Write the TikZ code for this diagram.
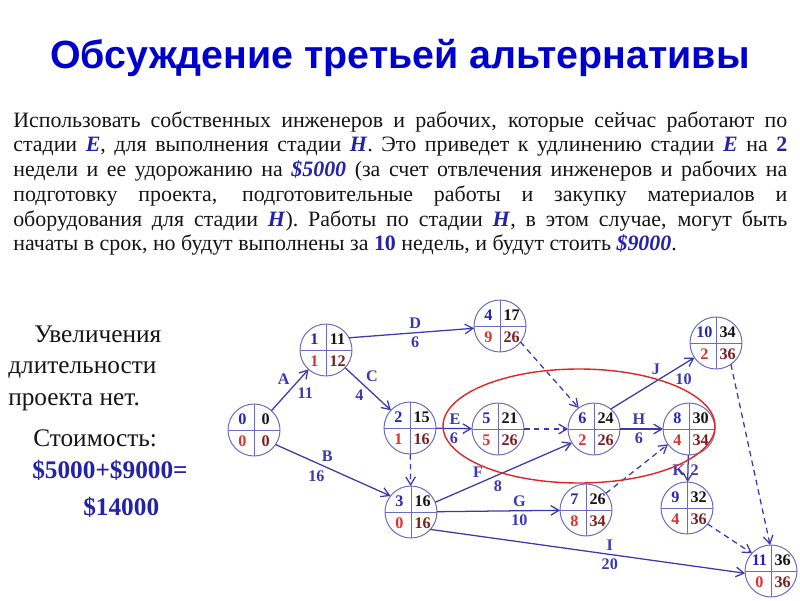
\documentclass[tikz,border=0pt]{standalone}
\usepackage{fontspec}
\setmainfont{Liberation Serif}
\setsansfont{Liberation Sans}
\usetikzlibrary{arrows.meta, positioning}
\definecolor{ttlblue}{HTML}{0000CC}
\definecolor{txtblue}{HTML}{2222AA}
\definecolor{edgeblue}{HTML}{3A3AB0}
\definecolor{circblue}{HTML}{6B6BC0}
\definecolor{numblue}{HTML}{2525B0}
\definecolor{numblack}{HTML}{151515}
\definecolor{numred}{HTML}{E03030}
\definecolor{numdark}{HTML}{7B2020}
\definecolor{ringred}{HTML}{E02525}
\newcommand{\stg}[1]{\textcolor{txtblue}{\textbf{\textit{#1}}}}
\newcommand{\bnum}[1]{\textcolor{txtblue}{\textbf{#1}}}
\tikzset{
  % событие сетевого графика
  evt/.style={circle, draw=circblue, line width=0.7pt, minimum size=1.3cm,
    inner sep=0pt, outer sep=0pt},
  evsep/.style={draw=circblue, line width=0.7pt},
  evnum/.style={font=\fontsize{11.5}{11.5}\selectfont\bfseries, inner sep=0pt},
  % работы (сплошные) и фиктивные работы (штриховые)
  work/.style={draw=edgeblue, line width=0.9pt,
    -{Straight Barb[length=2mm, width=2.4mm]}},
  dummy/.style={work, dashed, dash pattern=on 4pt off 3pt},
  wlbl/.style={font=\fontsize{11.5}{11.5}\selectfont\bfseries, text=edgeblue,
    inner sep=1.5pt},
  % выделение критического участка
  critring/.style={draw=ringred, line width=1pt},
  % тексты
  ttl/.style={font=\sffamily\bfseries\fontsize{28}{31}\selectfont, text=ttlblue},
  body/.style={font=\fontsize{15.6}{17.6}\selectfont, text width=19.35cm,
    align=justify, inner sep=0pt, text=numblack},
  side/.style={font=\fontsize{18}{20}\selectfont, inner sep=0pt, anchor=base west,
    text=numblack},
  sidecost/.style={side, font=\fontsize{18}{20}\selectfont\bfseries, text=txtblue},
}
\begin{document}
\begin{tikzpicture}
  \fill[white] (0,0) rectangle (20,15);
  \useasboundingbox (0,0) rectangle (20,15);

  \node[ttl, anchor=base] (title) at (10,13.275) {Обсуждение третьей альтернативы};
  \node[body, anchor=north west] (task) at (0.325,12.22) {Использовать собственных
    инженеров и рабочих, которые сейчас работают по\linebreak
    стадии \stg{E}, для выполнения стадии \stg{H}. Это приведет к удлинению
    стадии \stg{E} на \bnum{2}\linebreak
    недели и ее удорожанию на \stg{\$5000} (за счет отвлечения инженеров и рабочих
    на\linebreak
    подготовку проекта, подготовительные работы и закупку материалов и\linebreak
    оборудования для стадии \stg{H}). Работы по стадии \stg{H}, в этом случае,
    могут быть\linebreak
    начаты в срок, но будут выполнены за \bnum{10} недель, и будут стоить
    \stg{\$9000}.};

  \node[side] (res1) at (0.85,6.45) {Увеличения};
  \node[side] (res2) at (0.2,5.675) {длительности};
  \node[side] (res3) at (0.2,4.875) {проекта нет.};
  \node[side] (cost) at (0.825,3.85) {Стоимость:};
  \node[sidecost] (sum) at (0.8,3.05) {\$5000+\$9000=};
  \node[sidecost] (total) at (2.075,2.125) {\$14000};

  % события: номер / ранний срок / резерв / поздний срок
  \foreach \n/\p/\te/\r/\tl in {0/{6.35,4.25}/0/0/0, 1/{8.15,6.25}/11/1/12,
      2/{10.25,4.3}/15/1/16, 3/{10.275,2.2}/16/0/16, 4/{12.5,6.85}/17/9/26,
      5/{12.45,4.275}/21/5/26, 6/{14.85,4.275}/24/2/26, 7/{14.65,2.25}/26/8/34,
      8/{17.225,4.275}/30/4/34, 9/{17.175,2.3}/32/4/36,
      10/{17.9,6.425}/34/2/36, 11/{19.275,0.725}/36/0/36} {
    \node[evt] (n\n) at (\p) {};
    \draw[evsep] (n\n.north) -- (n\n.south) (n\n.west) -- (n\n.east);
    \node[evnum, text=numblue] (n\n-id) at ([shift={(-0.29,0.27)}]n\n.center) {\n};
    \node[evnum, text=numblack] (n\n-te) at ([shift={(0.29,0.27)}]n\n.center) {\te};
    \node[evnum, text=numred] (n\n-r) at ([shift={(-0.29,-0.27)}]n\n.center) {\r};
    \node[evnum, text=numdark] (n\n-tl) at ([shift={(0.29,-0.27)}]n\n.center) {\tl};
  }

  % работы
  \draw[work] (n0) -- node[wlbl, pos=0.56, above left] (lA) {A}
    node[wlbl, pos=0.63, below right] (dA) {11} (n1);
  \draw[work] (n1) -- node[wlbl, pos=0.4, above right] (lC) {C}
    node[wlbl, pos=0.46, below left] (dC) {4} (n2);
  \draw[work] (n1.28) -- node[wlbl, pos=0.53, above=1pt] (lD) {D}
    node[wlbl, pos=0.53, below=1pt] (dD) {6} (n4.185);
  \draw[work] (n0.-34) -- node[wlbl, pos=0.38, above right] (lB) {B}
    node[wlbl, pos=0.45, below left] (dB) {16} (n3.142);
  \draw[work] (n2) -- node[wlbl, pos=0.53, above=1pt] (lE) {E}
    node[wlbl, pos=0.5, below=1pt] (dE) {6} (n5);
  \draw[work] (n3.22) -- node[wlbl, pos=0.37, above left] (lF) {F}
    node[wlbl, pos=0.41, below right] (dF) {8} (n6.212);
  \draw[work] (n3) -- node[wlbl, pos=0.67, above=1pt] (lG) {G}
    node[wlbl, pos=0.67, below=1pt] (dG) {10} (n7);
  \draw[work] (n3.-42) -- node[wlbl, pos=0.57, above=1pt] (lI) {I}
    node[wlbl, pos=0.57, below=1pt] (dI) {20} (n11.185);
  \draw[work] (n6) -- node[wlbl, pos=0.44, above=1pt] (lH) {H}
    node[wlbl, pos=0.44, below=1pt] (dH) {6} (n8);
  \draw[work] (n6.50) -- node[wlbl, pos=0.62, above left] (lJ) {J}
    node[wlbl, pos=0.74, below right] (dJ) {10} (n10.214);
  \draw[work] (n8) -- node[wlbl, pos=0.55, left] (lK) {K}
    node[wlbl, pos=0.55, right] (dK) {2} (n9);

  % фиктивные работы
  \draw[dummy] (n2) -- (n3);
  \draw[dummy] (n5) -- (n6);
  \draw[dummy] (n4.-38) -- (n6.126);
  \draw[dummy] (n7.40) -- (n8.216);
  \draw[dummy] (n9.-38) -- (n11.137);
  \draw[dummy] (n10.-55) -- (n11.92);

  \draw[critring] (14.475,4.35) ellipse [x radius=3.4, y radius=1.425];
\end{tikzpicture}
\end{document}
